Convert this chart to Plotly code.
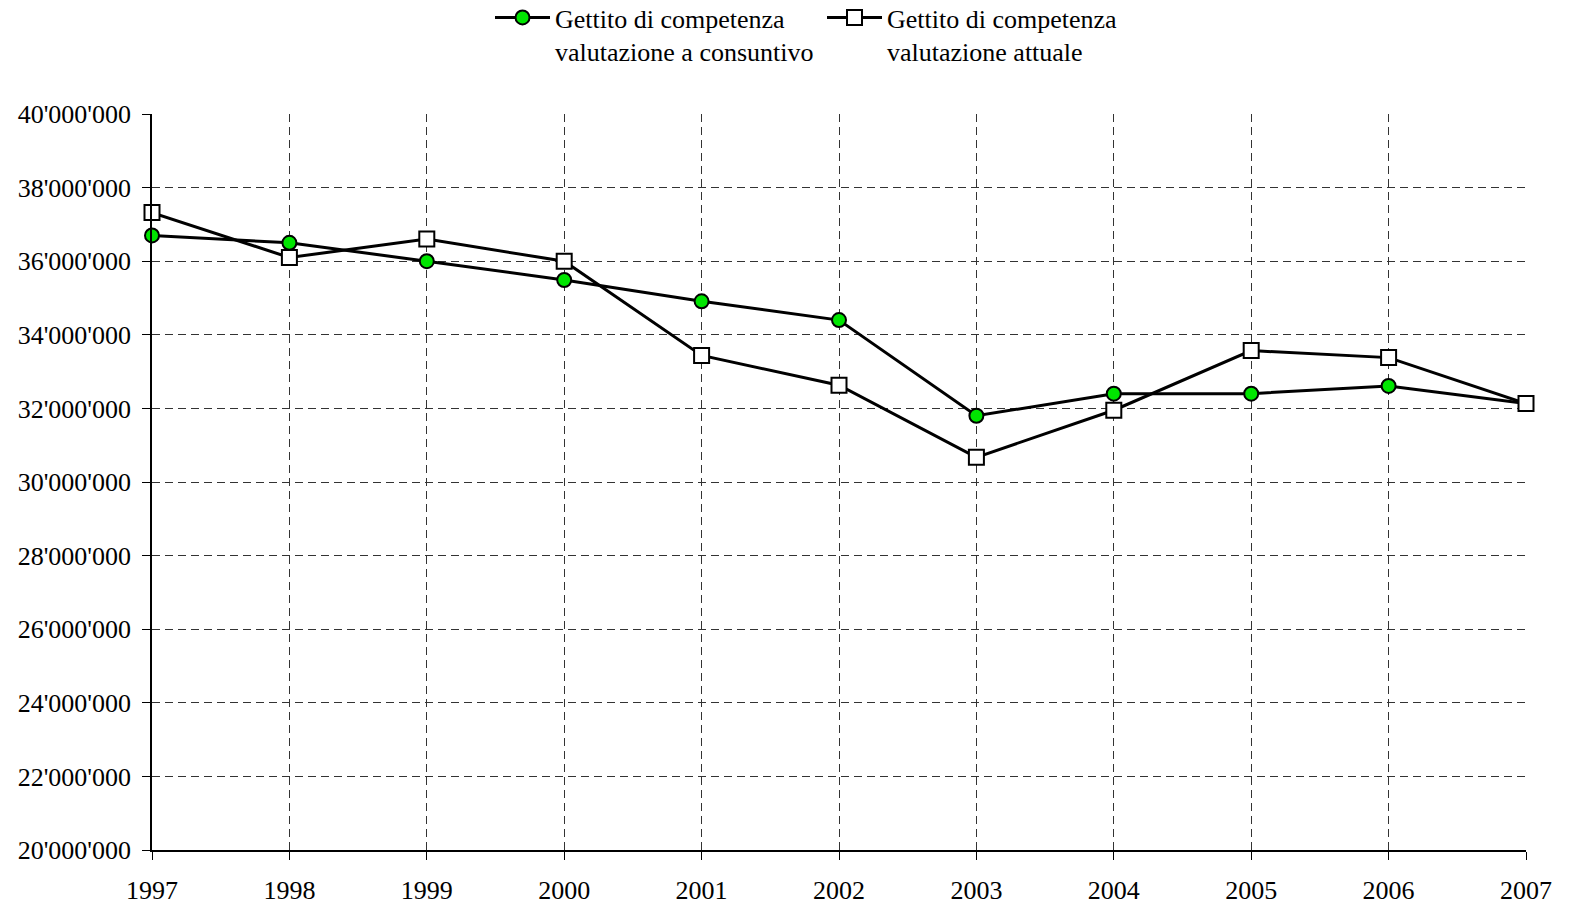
import plotly.graph_objects as go

# Annual revenue (competence basis), 1997-2007
years = [1997, 1998, 1999, 2000, 2001, 2002, 2003, 2004, 2005, 2006, 2007]
consuntivo = [36.70e6, 36.50e6, 36.00e6, 35.49e6, 34.91e6, 34.40e6,
              31.80e6, 32.40e6, 32.40e6, 32.61e6, 32.13e6]
attuale = [37.32e6, 36.10e6, 36.60e6, 36.00e6, 33.44e6, 32.63e6,
           30.67e6, 31.95e6, 33.57e6, 33.38e6, 32.13e6]

name_consuntivo = "Gettito di competenza<br>valutazione a consuntivo"
name_attuale = "Gettito di competenza<br>valutazione attuale"

y_tickvals = [20e6, 22e6, 24e6, 26e6, 28e6, 30e6, 32e6, 34e6, 36e6, 38e6, 40e6]
y_ticktext = ["20'000'000", "22'000'000", "24'000'000", "26'000'000", "28'000'000",
              "30'000'000", "32'000'000", "34'000'000", "36'000'000", "38'000'000",
              "40'000'000"]

FONT = "Liberation Serif, Times New Roman, serif"

fig = go.Figure()
fig.add_trace(go.Scatter(
    x=years, y=consuntivo, name=name_consuntivo, mode="lines+markers",
    line=dict(color="black", width=3),
    marker=dict(symbol="circle", size=14, color="#00e600",
                line=dict(color="black", width=2)),
    cliponaxis=False,
))
fig.add_trace(go.Scatter(
    x=years, y=attuale, name=name_attuale, mode="lines+markers",
    line=dict(color="black", width=3),
    marker=dict(symbol="square", size=15, color="white",
                line=dict(color="black", width=2)),
    cliponaxis=False,
))

fig.update_layout(
    width=1570, height=908,
    margin=dict(l=152, r=44, t=114, b=58, autoexpand=False),
    paper_bgcolor="white", plot_bgcolor="white",
    font=dict(family=FONT, size=26, color="black"),
    showlegend=True,
    legend=dict(
        orientation="h", x=0.2460, xanchor="left", y=1.163, yanchor="top",
        font=dict(family=FONT, size=26, color="black"),
        bgcolor="rgba(0,0,0,0)", itemwidth=55, tracegroupgap=0,
        valign="top", entrywidth=262, entrywidthmode="pixels",
    ),
    xaxis=dict(
        range=[1997, 2007], tickvals=years, ticktext=[str(y) for y in years],
        showline=True, linecolor="black", linewidth=1.5,
        ticks="outside", ticklen=8, tickcolor="black", tickwidth=1,
        ticklabelstandoff=8,
        showgrid=True, gridcolor="#333", gridwidth=1, griddash="8px,5px",
        zeroline=False,
    ),
    yaxis=dict(
        range=[20e6, 40e6], tickvals=y_tickvals, ticktext=y_ticktext,
        showline=True, linecolor="black", linewidth=1.5,
        ticks="outside", ticklen=8, tickcolor="black", tickwidth=1,
        ticklabelstandoff=6,
        showgrid=True, gridcolor="#333", gridwidth=1, griddash="8px,5px",
        zeroline=False,
    ),
)

fig.write_html("out.html")
